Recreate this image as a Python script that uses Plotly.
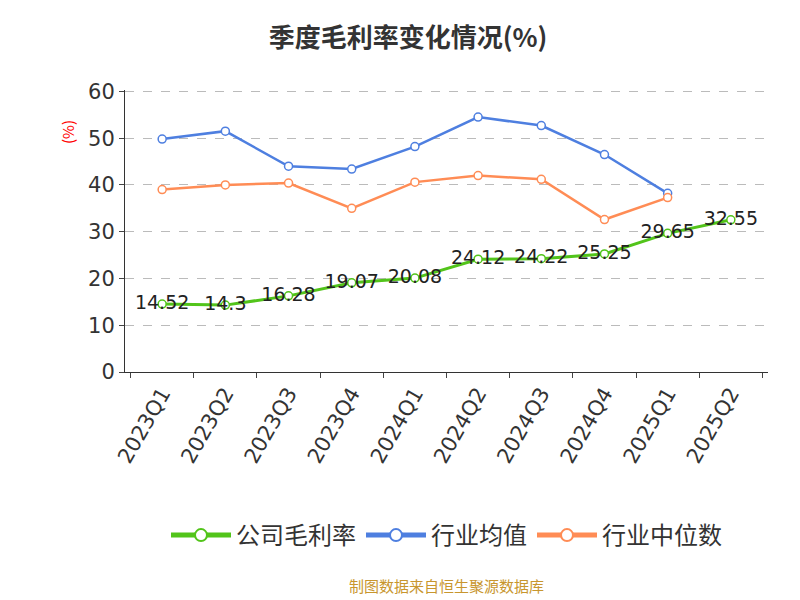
import plotly.graph_objects as go

quarters = ["2023Q1", "2023Q2", "2023Q3", "2023Q4", "2024Q1", "2024Q2", "2024Q3", "2024Q4", "2025Q1", "2025Q2"]
company = [14.52, 14.3, 16.28, 19.07, 20.08, 24.12, 24.22, 25.25, 29.65, 32.55]
industry_avg = [49.8, 51.5, 44.0, 43.4, 48.2, 54.5, 52.7, 46.5, 38.2, None]
industry_med = [39.0, 40.0, 40.4, 35.0, 40.6, 42.0, 41.2, 32.6, 37.3, None]

fig = go.Figure()
fig.add_trace(go.Scatter(x=quarters, y=company, name="公司毛利率", mode="lines+markers+text",
                         text=[str(v) for v in company], textposition="middle center",
                         textfont=dict(size=19, color="#222", family="DejaVu Sans"),
                         line=dict(color="#52c41a", width=3),
                         marker=dict(size=8, color="white", line=dict(color="#52c41a", width=1.5))))
fig.add_trace(go.Scatter(x=quarters, y=industry_avg, name="行业均值", mode="lines+markers",
                         line=dict(color="#4e7fe0", width=2.5),
                         marker=dict(size=8, color="white", line=dict(color="#4e7fe0", width=1.5))))
fig.add_trace(go.Scatter(x=quarters, y=industry_med, name="行业中位数", mode="lines+markers",
                         line=dict(color="#ff8c55", width=2.5),
                         marker=dict(size=8, color="white", line=dict(color="#ff8c55", width=1.5))))

fig.update_layout(
    width=800, height=600, plot_bgcolor="white", paper_bgcolor="white",
    font=dict(family="Noto Sans CJK SC", color="#333"),
    title=dict(text="<b>季度毛利率变化情况(%)</b>", x=0.5, y=0.965, font=dict(size=26, color="#333")),
    margin=dict(l=117, r=40, t=82, b=236),
    legend=dict(orientation="h", x=0.5, xanchor="center", y=-0.5, font=dict(size=24),
                itemwidth=60, itemsizing="constant"),
    annotations=[dict(text="制图数据来自恒生聚源数据库", x=0.5, y=-0.8, xref="paper", yref="paper",
                      showarrow=False, font=dict(size=15, color="#c8962e")),
                 dict(text="(%)", x=-0.11, y=0.9, xref="paper", yref="paper", textangle=-90,
                      showarrow=False, font=dict(size=15, color="red"))],
)
fig.update_xaxes(showline=True, linecolor="#333", ticks="outside", tickson="boundaries", tickangle=-60,
                 tickfont=dict(size=21, family="DejaVu Sans"), showgrid=False)
fig.update_yaxes(range=[0, 60.3], dtick=10, showline=True, linecolor="#333", ticks="outside",
                 tickfont=dict(size=21, family="DejaVu Sans"), gridcolor="#bbb", griddash="dash", zeroline=False)

fig.write_html("out.html")
